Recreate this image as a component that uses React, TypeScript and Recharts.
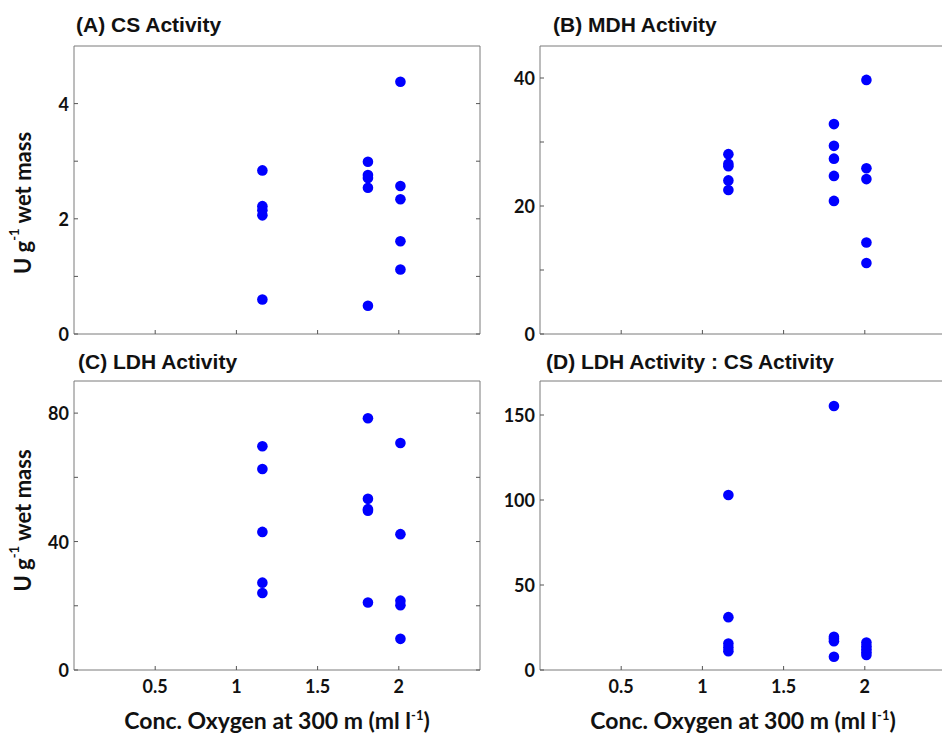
import { ScatterChart, Scatter, XAxis, YAxis } from "recharts";

// oxygen concentration at 300 m for the three sampling sites (ml l-1)
const oxygen = [1.16, 1.81, 2.01];
const xTicks = [0.5, 1, 1.5, 2];

// values per site
const csActivity = [
  [2.84, 2.22, 2.15, 2.06, 0.6],
  [2.99, 2.76, 2.71, 2.54, 0.49],
  [4.38, 2.57, 2.34, 1.61, 1.12],
];
const mdhActivity = [
  [28.1, 26.6, 26.2, 24.0, 22.5],
  [32.8, 29.4, 27.4, 24.7, 20.8],
  [39.7, 25.9, 24.2, 14.3, 11.1],
];
const ldhActivity = [
  [69.7, 62.6, 43.0, 27.2, 24.0],
  [78.4, 53.3, 50.1, 49.6, 21.0],
  [70.7, 42.3, 21.6, 20.2, 9.7],
];
const ldhCsRatio = [
  [102.9, 31.1, 15.6, 13.3, 11.1],
  [155.3, 19.6, 18.4, 16.9, 7.8],
  [16.2, 14.0, 12.2, 10.4, 8.8],
];

const toPoints = (groups: number[][]) =>
  groups.flatMap((vals, i) => vals.map((v) => ({ x: oxygen[i], y: v })));

const AXIS = "#7a7a7a";
const TICK_LINE = "#555";
const PLOT_W = 406;
const labelFont = {
  fill: "#111",
  fontSize: 18,
  fontWeight: 700,
  fontFamily: "Lato, sans-serif",
};

const dot = (p: any) => <circle cx={p.cx} cy={p.cy} r={5.3} fill="#0000ff" />;

// inward (matlab style) ticks, drawn by hand so they point into the plot
const bottomTick = (showLabel: boolean) => (p: any) => (
  <g>
    <line x1={p.x} y1={p.y} x2={p.x} y2={p.y - 4} stroke={TICK_LINE} />
    {showLabel && (
      <text x={p.x} y={p.y + 23} textAnchor="middle" {...labelFont}>
        {p.payload.value}
      </text>
    )}
  </g>
);
const topTick = (p: any) => (
  <line x1={p.x} y1={p.y} x2={p.x} y2={p.y + 4} stroke={TICK_LINE} />
);
const leftTick = (every: number) => (p: any) => (
  <g>
    <line x1={p.x} y1={p.y} x2={p.x + 4} y2={p.y} stroke={TICK_LINE} />
    {p.payload.value % every === 0 && (
      <text x={p.x - 5} y={p.y} textAnchor="end" dominantBaseline="central" {...labelFont}>
        {p.payload.value}
      </text>
    )}
  </g>
);
const rightTick = (p: any) => (
  <line x1={p.x} y1={p.y} x2={p.x - 4} y2={p.y} stroke={TICK_LINE} />
);

const yTitle = (shift: number) => (props: any) => {
  const vb = props.viewBox;
  const cx = vb.x + 22;
  const cy = vb.y + vb.height / 2 + shift;
  return (
    <text
      x={cx}
      y={cy}
      transform={`rotate(-90, ${cx}, ${cy})`}
      textAnchor="middle"
      dominantBaseline="central"
      fontFamily="Lato, sans-serif"
      fontWeight={700}
      fontSize={22}
      fill="#111"
    >
      U g
      <tspan dy={-8} fontSize={13}>-1</tspan>
      <tspan dy={8}> wet mass</tspan>
    </text>
  );
};

const xTitle = (props: any) => {
  const vb = props.viewBox;
  return (
    <text
      x={vb.x + vb.width / 2}
      y={vb.y + 59}
      textAnchor="middle"
      fontFamily="Lato, sans-serif"
      fontWeight={700}
      fontSize={23}
      fill="#111"
    >
      Conc. Oxygen at 300 m (ml l
      <tspan dy={-9} fontSize={13}>-1</tspan>
      <tspan dy={9}>)</tspan>
    </text>
  );
};

type PanelProps = {
  title: string;
  values: number[][];
  yMax: number;
  yTicks: number[];
  yLabelEvery: number;
  left: number;
  top: number;
  yWidth: number;
  plotH: number;
  bottomRow: boolean;
  yTitleShift?: number;
  titleLeft: number;
  titleTop: number;
};

function Panel(p: PanelProps) {
  const xH = p.bottomRow ? 68 : 14;
  return (
    <>
      <div
        style={{
          position: "absolute",
          left: p.titleLeft,
          top: p.titleTop,
          fontFamily: "'Liberation Sans', Arial, sans-serif",
          fontWeight: 700,
          fontSize: 21,
          lineHeight: "21px",
          color: "#111",
          whiteSpace: "nowrap",
        }}
      >
        {p.title}
      </div>
      <div style={{ position: "absolute", left: p.left, top: p.top }}>
        <ScatterChart
          width={p.yWidth + PLOT_W + 2}
          height={2 + p.plotH + xH}
          margin={{ top: 1, right: 1, bottom: 0, left: 0 }}
        >
          <XAxis
            xAxisId="b"
            type="number"
            dataKey="x"
            orientation="bottom"
            domain={[0, 2.5]}
            ticks={xTicks}
            interval={0}
            allowDataOverflow
            height={xH}
            stroke={AXIS}
            tickLine={false}
            tickSize={0}
            tickMargin={0}
            tick={bottomTick(p.bottomRow)}
            label={p.bottomRow ? xTitle : undefined}
          />
          <XAxis
            xAxisId="t"
            type="number"
            orientation="top"
            domain={[0, 2.5]}
            ticks={xTicks}
            interval={0}
            allowDataOverflow
            height={1}
            stroke={AXIS}
            tickLine={false}
            tickSize={0}
            tickMargin={0}
            tick={topTick}
          />
          <YAxis
            yAxisId="l"
            type="number"
            dataKey="y"
            domain={[0, p.yMax]}
            ticks={p.yTicks}
            interval={0}
            allowDataOverflow
            width={p.yWidth}
            stroke={AXIS}
            tickLine={false}
            tickSize={0}
            tickMargin={0}
            tick={leftTick(p.yLabelEvery)}
            label={p.yTitleShift !== undefined ? yTitle(p.yTitleShift) : undefined}
          />
          <YAxis
            yAxisId="r"
            type="number"
            orientation="right"
            domain={[0, p.yMax]}
            ticks={p.yTicks}
            interval={0}
            allowDataOverflow
            width={1}
            stroke={AXIS}
            tickLine={false}
            tickSize={0}
            tickMargin={0}
            tick={rightTick}
          />
          <Scatter
            xAxisId="b"
            yAxisId="l"
            data={toPoints(p.values)}
            shape={dot}
            isAnimationActive={false}
          />
        </ScatterChart>
      </div>
    </>
  );
}

export default function App() {
  return (
    <div
      style={{
        position: "absolute",
        left: 0,
        top: 0,
        width: 942,
        height: 738,
        overflow: "hidden",
        background: "#fff",
      }}
    >
      <Panel
        title="(A) CS Activity"
        values={csActivity}
        yMax={5}
        yTicks={[0, 1, 2, 3, 4]}
        yLabelEvery={2}
        left={0}
        top={44}
        yWidth={74}
        plotH={288}
        bottomRow={false}
        yTitleShift={13}
        titleLeft={76}
        titleTop={14}
      />
      <Panel
        title="(B) MDH Activity"
        values={mdhActivity}
        yMax={45}
        yTicks={[0, 10, 20, 30, 40]}
        yLabelEvery={20}
        left={474}
        top={44}
        yWidth={66}
        plotH={288}
        bottomRow={false}
        titleLeft={553}
        titleTop={14}
      />
      <Panel
        title="(C) LDH Activity"
        values={ldhActivity}
        yMax={90}
        yTicks={[0, 20, 40, 60, 80]}
        yLabelEvery={40}
        left={0}
        top={379}
        yWidth={74}
        plotH={289}
        bottomRow
        yTitleShift={-5}
        titleLeft={78}
        titleTop={351}
      />
      <Panel
        title="(D) LDH Activity : CS Activity"
        values={ldhCsRatio}
        yMax={170}
        yTicks={[0, 50, 100, 150]}
        yLabelEvery={50}
        left={474}
        top={379}
        yWidth={66}
        plotH={289}
        bottomRow
        titleLeft={546}
        titleTop={351}
      />
    </div>
  );
}
